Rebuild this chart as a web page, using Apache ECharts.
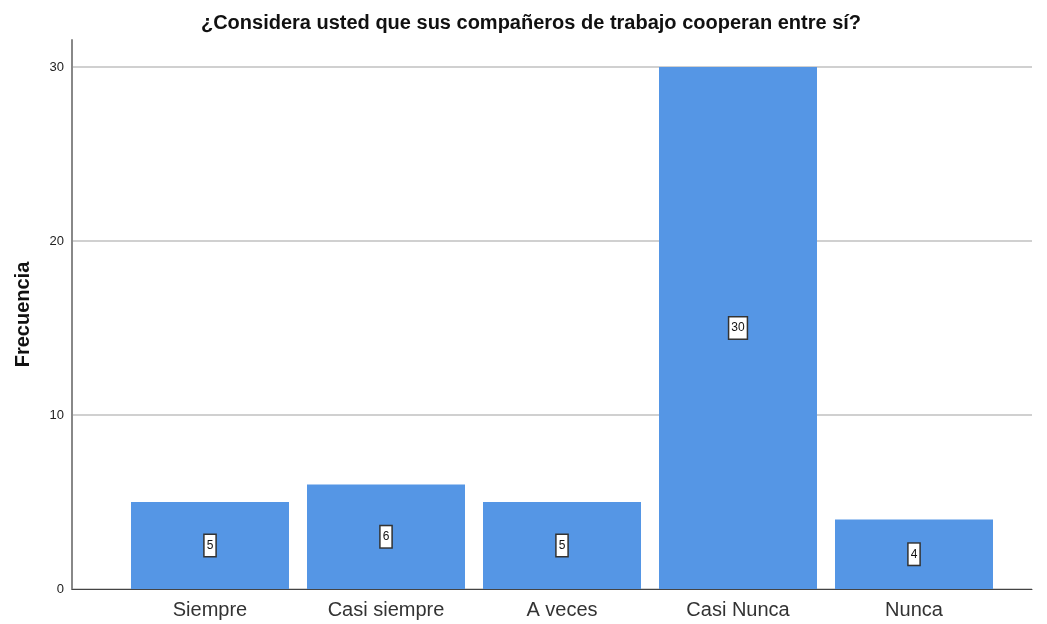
<!DOCTYPE html>
<html>
<head>
<meta charset="utf-8">
<script src="https://cdn.jsdelivr.net/npm/echarts@6/dist/echarts.min.js"></script>
<style>
  html, body { margin: 0; padding: 0; background: #fff; }
  #chart { width: 1047px; height: 624px; }
</style>
</head>
<body>
<div id="chart"></div>
<script>
// Survey answers and their frequencies
const categories = ['Siempre', 'Casi siempre', 'A veces', 'Casi Nunca', 'Nunca'];
const frecuencias = [5, 6, 5, 30, 4];
const yTicks = [0, 10, 20, 30];

const titleText = '¿Considera usted que sus compañeros de trabajo cooperan entre sí?';
const yName = 'Frecuencia';

const Y_MIN = 0, Y_MAX = 31.55;
const FONT = '"Liberation Sans", Arial, sans-serif';

const chart = echarts.init(document.getElementById('chart'), null, { renderer: 'canvas' });

chart.setOption({
  backgroundColor: '#ffffff',
  animation: false,
  title: {
    text: titleText,
    left: 526, top: 8, textAlign: 'center',
    textStyle: { fontFamily: FONT, fontSize: 20, fontWeight: 'bold', color: '#111' }
  },
  grid: [
    // frame: y axis, gridlines and baseline
    { left: 72, right: 15, top: 40, bottom: 35 },
    // bars sit in a narrower band inside the frame
    { left: 122, right: 45, top: 40, bottom: 35 }
  ],
  xAxis: [
    {
      gridIndex: 0, type: 'value', min: 0, max: 1,
      axisLine: { show: true, lineStyle: { color: '#444', width: 1 } },
      axisTick: { show: false }, axisLabel: { show: false }, splitLine: { show: false }
    },
    {
      gridIndex: 1, type: 'category', data: categories,
      axisLine: { show: false }, axisTick: { show: false },
      axisLabel: { fontFamily: FONT, fontSize: 20, color: '#333', margin: 11 }
    }
  ],
  yAxis: [
    {
      gridIndex: 0, type: 'value', min: Y_MIN, max: Y_MAX, interval: 10,
      name: yName, nameLocation: 'middle', nameGap: 39,
      nameTextStyle: { fontFamily: FONT, fontSize: 20, fontWeight: 'bold', color: '#111' },
      axisLine: { show: true, lineStyle: { color: '#888', width: 2 } },
      axisTick: { show: false },
      axisLabel: {
        fontFamily: FONT, fontSize: 13, color: '#222', margin: 8,
        formatter: v => (yTicks.indexOf(v) >= 0 ? String(v) : '')
      },
      splitLine: { show: true, showMaxLine: false, lineStyle: { color: '#d0d0d0', width: 2 } }
    },
    {
      gridIndex: 1, type: 'value', min: Y_MIN, max: Y_MAX, interval: 10,
      axisLine: { show: false }, axisTick: { show: false },
      axisLabel: { show: false }, splitLine: { show: false }
    }
  ],
  series: [{
    type: 'bar',
    xAxisIndex: 1, yAxisIndex: 1,
    data: frecuencias,
    barWidth: 158,
    itemStyle: { color: '#5596e5' },
    label: {
      show: true, position: 'inside',
      fontFamily: FONT, fontSize: 12, color: '#111',
      backgroundColor: '#ffffff', borderColor: '#333', borderWidth: 1.5,
      padding: [5, 2, 4, 2]
    }
  }]
});
</script>
</body>
</html>
